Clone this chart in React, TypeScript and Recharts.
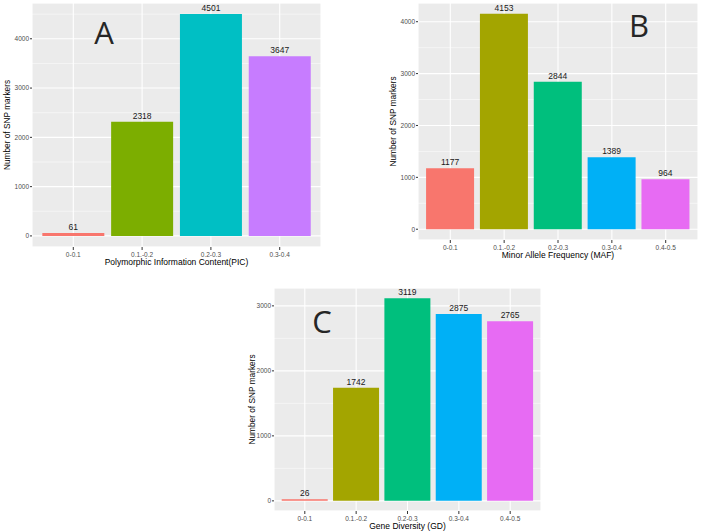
import { Bar, BarChart, CartesianGrid, Cell, LabelList, XAxis, YAxis } from "recharts";

// Panel A - PIC
const picCategories = ["0-0.1", "0.1.-0.2", "0.2-0.3", "0.3-0.4"];
const picValues = [61, 2318, 4501, 3647];
const picColors = ["#F8766D", "#7CAE00", "#00BFC4", "#C77CFF"];
const picTicks = [0, 1000, 2000, 3000, 4000];
const picMinor = [500, 1500, 2500, 3500, 4500];

// Panel B - MAF
const mafCategories = ["0-0.1", "0.1.-0.2", "0.2-0.3", "0.3-0.4", "0.4-0.5"];
const mafValues = [1177, 4153, 2844, 1389, 964];
const mafColors = ["#F8766D", "#A3A500", "#00BF7D", "#00B0F6", "#E76BF3"];
const mafTicks = [0, 1000, 2000, 3000, 4000];
const mafMinor = [500, 1500, 2500, 3500];

// Panel C - GD
const gdCategories = ["0-0.1", "0.1.-0.2", "0.2-0.3", "0.3-0.4", "0.4-0.5"];
const gdValues = [26, 1742, 3119, 2875, 2765];
const gdColors = ["#F8766D", "#A3A500", "#00BF7D", "#00B0F6", "#E76BF3"];
const gdTicks = [0, 1000, 2000, 3000];
const gdMinor = [500, 1500, 2500];

const FONT = "'Liberation Sans', Arial, sans-serif";

type PanelProps = {
  categories: string[];
  values: number[];
  colors: string[];
  ticks: number[];
  minor: number[];
  xTitle: string;
  left: number;
  top: number;
  plotWidth: number;
  plotHeight: number;
  yTitleOffset: number;
};

function Panel(props: PanelProps) {
  const { categories, values, colors, ticks, minor, xTitle } = props;
  const data = categories.map((name, i) => ({ name, value: values[i] }));
  const max = Math.max(...values);
  const pad = max * 0.05;
  const domain = [-pad, max + pad];
  const spacing = props.plotWidth / (categories.length + 0.2);
  const width = 32 + props.plotWidth + 2;
  const height = 3 + props.plotHeight + 28;

  return (
    <div style={{ position: "absolute", left: props.left, top: props.top }}>
      <BarChart
        width={width}
        height={height}
        data={data}
        margin={{ top: 3, right: 2, left: 0, bottom: 0 }}
        barCategoryGap="5%"
        style={{ fontFamily: FONT }}
      >
        <CartesianGrid fill="#EBEBEB" fillOpacity={1} stroke="#FFFFFF" strokeWidth={1.1} />
        {/* minor grid on a hidden axis */}
        <CartesianGrid yAxisId="minor" vertical={false} stroke="#FFFFFF" strokeWidth={0.5} />
        <XAxis
          dataKey="name"
          height={28}
          padding={{ left: spacing * 0.1, right: spacing * 0.1 }}
          axisLine={false}
          tickSize={3}
          tickMargin={2}
          tickLine={{ stroke: "#333333" }}
          tick={{ fontSize: 6.5, fill: "#4D4D4D" }}
          interval={0}
          label={{ value: xTitle, position: "insideBottom", offset: 10, fontSize: 8.5, fill: "#000000" }}
        />
        <YAxis
          type="number"
          width={32}
          domain={domain}
          allowDataOverflow
          ticks={ticks}
          axisLine={false}
          tickSize={2}
          tickMargin={1}
          tickLine={{ stroke: "#333333" }}
          tick={{ fontSize: 6.5, fill: "#4D4D4D" }}
          label={{
            value: "Number of SNP markers",
            angle: -90,
            position: "insideLeft",
            offset: props.yTitleOffset,
            fontSize: 8.3,
            fill: "#000000",
            style: { textAnchor: "middle" },
          }}
        />
        <YAxis yAxisId="minor" type="number" hide domain={domain} allowDataOverflow ticks={minor} />
        <Bar dataKey="value" isAnimationActive={false}>
          {data.map((d, i) => (
            <Cell key={d.name} fill={colors[i]} />
          ))}
          <LabelList dataKey="value" position="top" offset={3} fontSize={8.5} fill="#1A1A1A" />
        </Bar>
      </BarChart>
    </div>
  );
}

const letterStyle = {
  position: "absolute" as const,
  width: 40,
  textAlign: "center" as const,
  fontFamily: "'Open Sans', sans-serif",
  fontSize: 31,
  lineHeight: "31px",
  color: "#262626",
};

export default function App() {
  return (
    <div
      style={{
        position: "absolute",
        left: 0,
        top: 0,
        width: 702,
        height: 532,
        background: "#FFFFFF",
        overflow: "hidden",
      }}
    >
      <Panel
        categories={picCategories}
        values={picValues}
        colors={picColors}
        ticks={picTicks}
        minor={picMinor}
        xTitle="Polymorphic Information Content(PIC)"
        left={0}
        top={0}
        plotWidth={289}
        plotHeight={244}
        yTitleOffset={7}
      />
      <Panel
        categories={mafCategories}
        values={mafValues}
        colors={mafColors}
        ticks={mafTicks}
        minor={mafMinor}
        xTitle="Minor Allele Frequency (MAF)"
        left={386}
        top={0}
        plotWidth={280}
        plotHeight={237}
        yTitleOffset={7}
      />
      <Panel
        categories={gdCategories}
        values={gdValues}
        colors={gdColors}
        ticks={gdTicks}
        minor={gdMinor}
        xTitle="Gene Diversity (GD)"
        left={242}
        top={285}
        plotWidth={267}
        plotHeight={223}
        yTitleOffset={10}
      />
      <div style={{ ...letterStyle, left: 84, top: 17 }}>A</div>
      <div style={{ ...letterStyle, left: 619, top: 10 }}>B</div>
      <div style={{ ...letterStyle, left: 302, top: 306 }}>C</div>
    </div>
  );
}
